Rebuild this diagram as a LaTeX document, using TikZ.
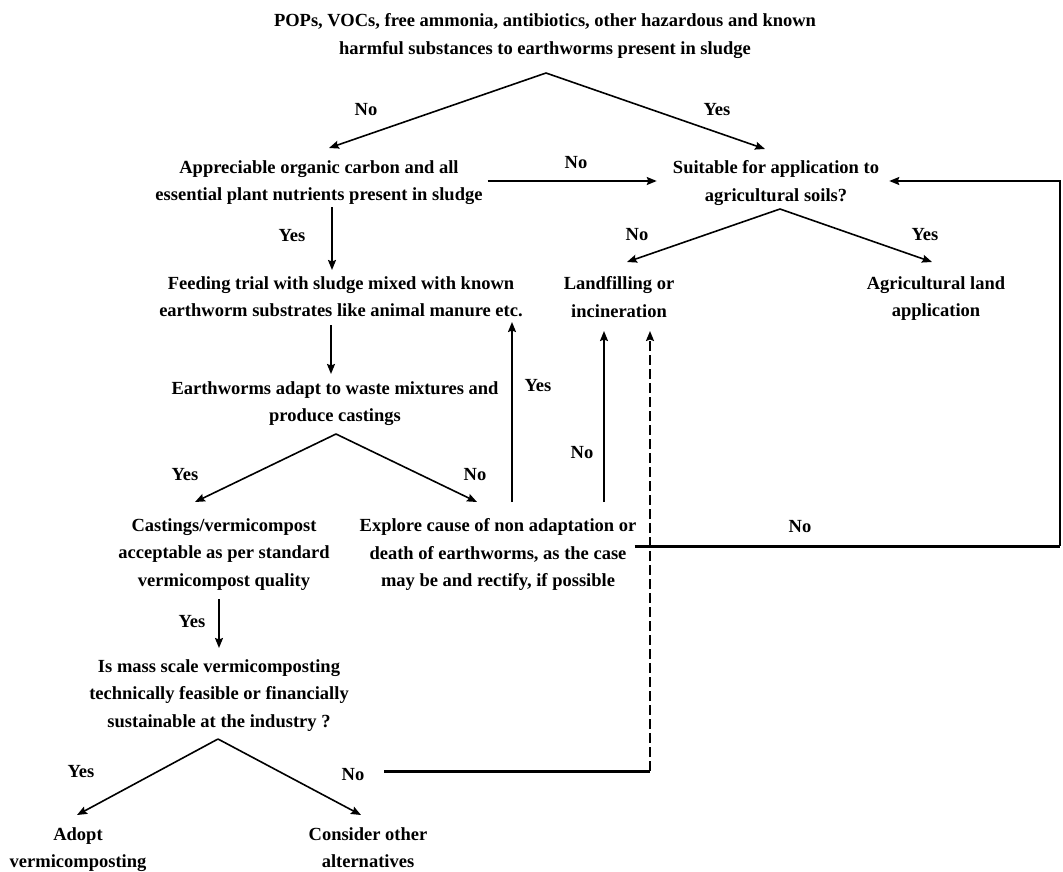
\documentclass[tikz,border=0pt]{standalone}
\usepackage{fontspec}
\setmainfont{Liberation Serif}
\usetikzlibrary{arrows.meta}
\begin{document}
\begin{tikzpicture}[x=1pt,y=-1pt,
  txt/.style={font=\fontsize{18.5}{27.3}\selectfont\bfseries, align=center, inner sep=3pt, anchor=north},
  lab/.style={font=\fontsize{18.5}{22}\selectfont\bfseries, inner sep=1pt},
  ln/.style={line width=1.6pt},
  tip/.style={-{Stealth[length=10pt,width=8pt,inset=1.5pt]}},
  arr/.style={ln, tip},
  thk/.style={line width=3pt},
  dsh/.style={line width=1.8pt, dash pattern=on 10pt off 4pt}]
\useasboundingbox (0,0) rectangle (1063,872);

% decision and action boxes (text only)
\node[txt] (top)   at (545,10.5)  {POPs, VOCs, free ammonia, antibiotics, other hazardous and known\\harmful substances to earthworms present in sludge};
\node[txt] (appr)  at (319,157.5) {Appreciable organic carbon and all\\essential plant nutrients present in sludge};
\node[txt] (suit)  at (776,157.5) {Suitable for application to\\agricultural soils?};
\node[txt] (land)  at (619,273.5) {Landfilling or\\incineration};
\node[txt] (agri)  at (936,273.5) {Agricultural land\\application};
\node[txt] (feed)  at (341,273.5) {Feeding trial with sludge mixed with known\\earthworm substrates like animal manure etc.};
\node[txt] (earth) at (335,378.5) {Earthworms adapt to waste mixtures and\\produce castings};
\node[txt] (cast)  at (224,515.5) {Castings/vermicompost\\acceptable as per standard\\vermicompost quality};
\node[txt] (expl)  at (498,515.5) {Explore cause of non adaptation or\\death of earthworms, as the case\\may be and rectify, if possible};
\node[txt] (mass)  at (219,656.5) {Is mass scale vermicomposting\\technically feasible or financially\\sustainable at the industry ?};
\node[txt] (adopt) at (78,824.5)  {Adopt\\vermicomposting};
\node[txt] (cons)  at (368,824.5) {Consider other\\alternatives};

% branch points and connector ends (measured from the top of each box)
\coordinate (b1) at (546,73);
\coordinate (b2) at (780,209);
\coordinate (b3) at (336,434);
\coordinate (b4) at (218,739);
\coordinate (rc) at (1060,546);
\coordinate (dc) at (650,771);
\coordinate (ns) at (384,771);
\coordinate (lb) at ([yshift=-57.5pt]land.north);
\coordinate (fn) at ([yshift=3.5pt]feed.north);
\coordinate (fs) at ([yshift=-48.5pt]feed.north);
\coordinate (en) at ([yshift=4.5pt]earth.north);
\coordinate (mn) at ([yshift=8.5pt]mass.north);
\coordinate (as) at ([xshift=13pt,yshift=-49.5pt]appr.north);
\coordinate (fb) at ([xshift=-10pt,yshift=-51.5pt]feed.north);
\coordinate (cs) at ([xshift=-5pt,yshift=-83.5pt]cast.north);
\coordinate (ey) at ([xshift=14pt,yshift=13.5pt]expl.north);
\coordinate (eno) at ([xshift=106pt,yshift=13.5pt]expl.north);

% first decision
\draw[arr] (b1) -- ([xshift=10pt,yshift=9.5pt]appr.north);
\draw[arr] (b1) -- ([xshift=-11pt,yshift=8.5pt]suit.north);
\node[lab] (l1) at (366,110) {No};
\node[lab] (l2) at (717,110) {Yes};

% organic carbon check
\draw[arr] ([xshift=2pt,yshift=-23.5pt]appr.north east) -- ([xshift=-13pt,yshift=-23.5pt]suit.north west);
\node[lab] (l3) at (576,163) {No};
\draw[arr] (as) -- (as |- fn);
\node[lab] (l4) at (292,236) {Yes};

% land application decision
\draw[arr] (b2) -- ([xshift=8pt,yshift=11.5pt]land.north);
\draw[arr] (b2) -- ([xshift=-4pt,yshift=11.5pt]agri.north);
\node[lab] (l5) at (637,235) {No};
\node[lab] (l6) at (925,235) {Yes};

% feeding trial
\draw[arr] (fb) -- (fb |- en);

% adaptation decision
\draw[arr] (b3) -- ([xshift=-29pt,yshift=13.5pt]cast.north);
\draw[arr] (b3) -- ([xshift=-21pt,yshift=13.5pt]expl.north);
\node[lab] (l7) at (185,475) {Yes};
\node[lab] (l8) at (475,475) {No};

% back from exploring
\draw[arr] (ey) -- (ey |- fs);
\node[lab] (l9) at (538,386) {Yes};
\draw[arr] (eno) -- (eno |- lb);
\node[lab] (l10) at (582,453) {No};
\draw[thk] ([xshift=-5pt,yshift=-30.5pt]expl.north east) -- (rc);
\draw[arr] (rc) |- ([xshift=7pt,yshift=-23.5pt]suit.north east);
\node[lab] (l11) at (800,527) {No};

% quality check
\draw[arr] (cs) -- (cs |- mn);
\node[lab] (l12) at (192,622) {Yes};

% feasibility decision
\draw[arr] (b4) -- ([xshift=-1pt,yshift=9.5pt]adopt.north);
\draw[arr] (b4) -- ([xshift=-7pt,yshift=9.5pt]cons.north);
\node[lab] (l13) at (81,772) {Yes};
\node[lab] (l14) at (353,775) {No};
\draw[thk] (ns) -- (dc);
\draw[dsh, tip] (dc) -- (dc |- lb);
\end{tikzpicture}
\end{document}
